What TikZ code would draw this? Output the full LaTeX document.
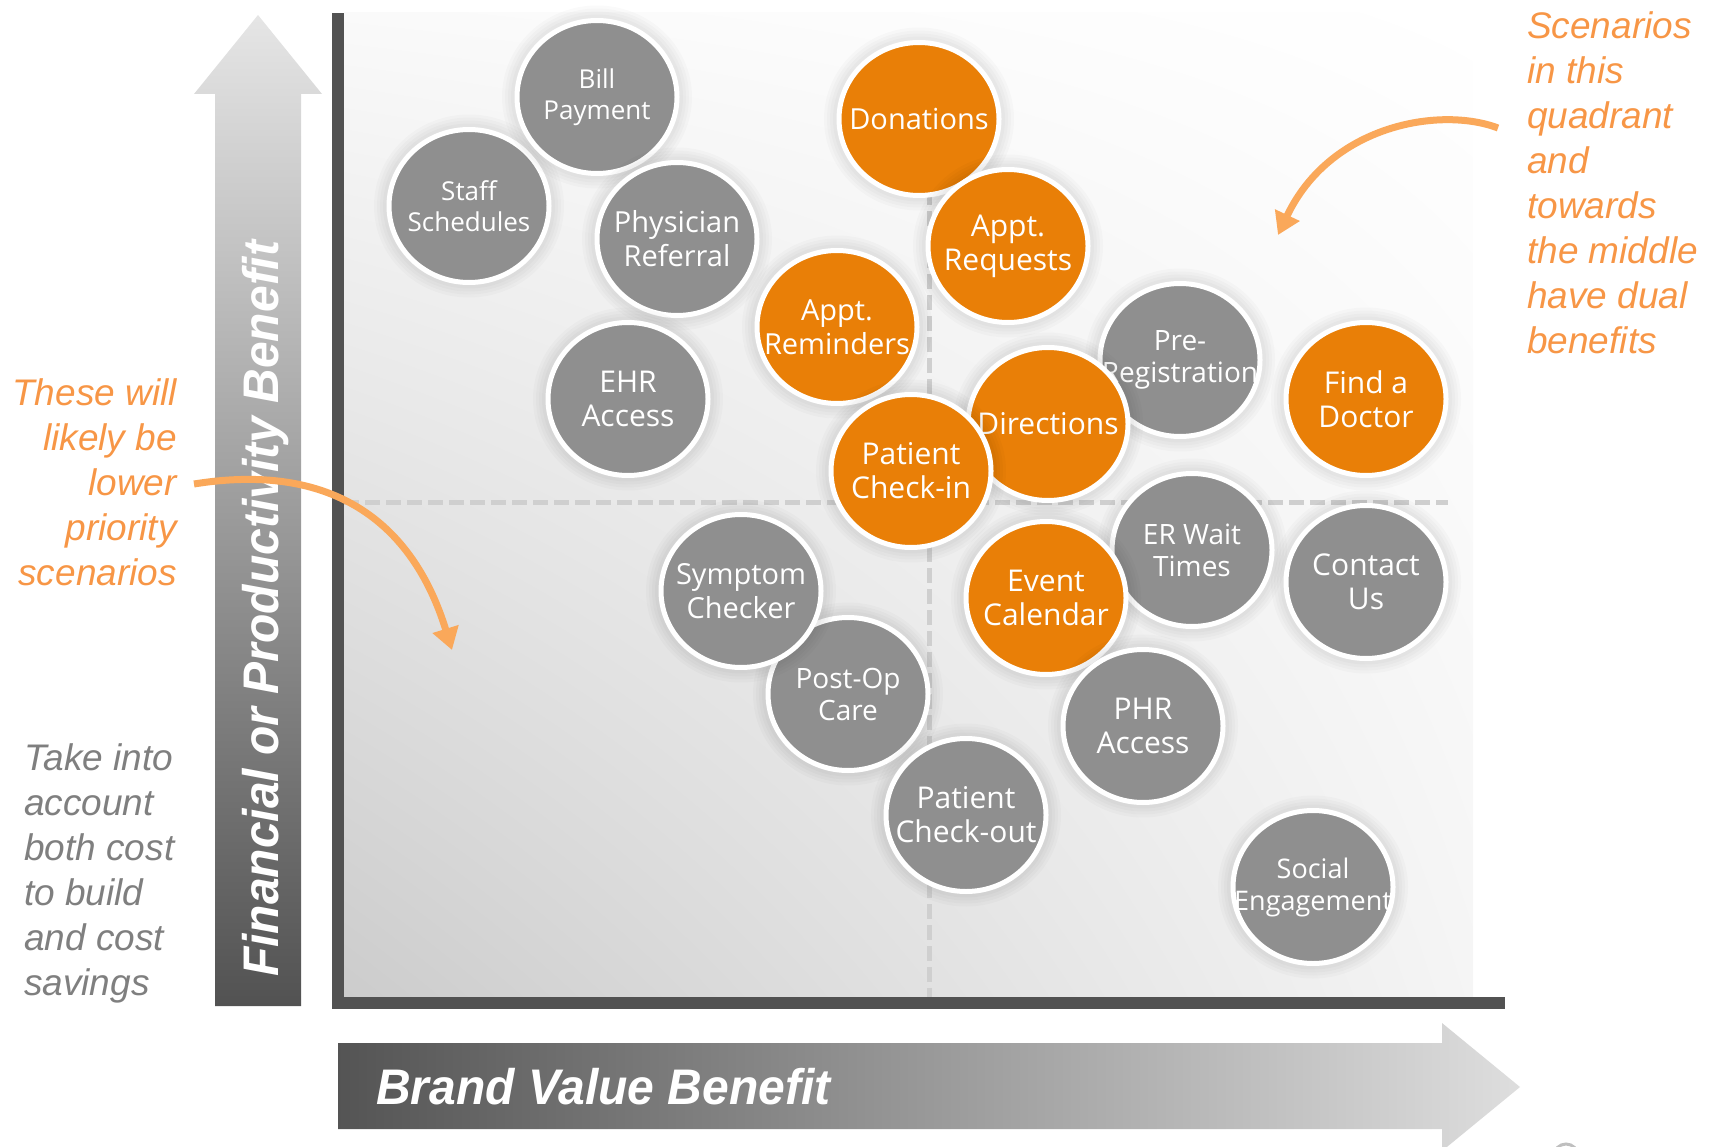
\documentclass[tikz,border=0pt]{standalone}
\usepackage{fontspec}
\setmainfont{Liberation Sans}
\newfontfamily\bubfont{Open Sans}
\newfontfamily\arialfont{Liberation Sans}
\usetikzlibrary{shapes.geometric,arrows.meta,shadings}
\definecolor{bubgray}{HTML}{8F8F8F}
\definecolor{bubor}{HTML}{E97F07}
\definecolor{annor}{HTML}{F79646}
\definecolor{arrowor}{HTML}{FAA85A}
\definecolor{axisdark}{HTML}{525252}
\definecolor{dashgray}{HTML}{CFCFCF}
\definecolor{notegray}{HTML}{7F7F7F}
\begin{document}
\begin{tikzpicture}[x=1pt,y=-1pt,
  glow/.style={preaction={draw=black, draw opacity=#1, line width=12pt},
               preaction={draw=black, draw opacity=#1, line width=18pt},
               preaction={draw=black, draw opacity=#1, line width=24pt},
               preaction={draw=black, draw opacity=#1, line width=30pt}},
  bub/.style={ellipse, minimum width=160pt, minimum height=153pt, inner sep=0pt, draw=white, line width=5pt, glow=0.018},
  gbub/.style={bub, fill=bubgray},
  obub/.style={bub, fill=bubor},
  btxt/.style 2 args={text=white, align=center, inner sep=0pt, font=\bubfont\fontsize{#1}{#2}\selectfont},
  note/.style={inner sep=0pt, font=\arialfont\itshape\fontsize{37}{45}\selectfont},
  axislabel/.style={inner sep=0pt, text=white, font=\arialfont\bfseries\itshape\fontsize{50}{56}\selectfont},
  callout/.style={draw=arrowor, line width=7pt, -{Triangle[width=26pt,length=22pt]}},
  quaddash/.style={draw=dashgray, line width=5pt, dash pattern=on 15pt off 6pt},
]
\useasboundingbox (0,0) rectangle (1710,1147);

% plot background
\shade[upper left=black!2, upper right=white, lower left=black!20, lower right=black!4] (344,13) rectangle (1473,997);

% quadrant dashed lines
\draw[quaddash] (344,502) -- (1448,502);
\draw[quaddash] (929,190) -- (929,997);

% axes
\fill[axisdark] (332,13) rectangle (344,1009);
\fill[axisdark] (332,997) rectangle (1505,1009);

% vertical big arrow
\shade[top color=black!10, bottom color=axisdark]
  (215,1006) -- (215,94) -- (194,94) -- (258,15) -- (322,94) -- (301,94) -- (301,1006) -- cycle;
\node[axislabel, rotate=90, anchor=base west] (ylab) at (278,977) {\scalebox{0.96}[1]{Financial or Productivity Benefit}};

% horizontal big arrow
\shade[left color=black!67, right color=black!13]
  (338,1043) -- (1442,1043) -- (1442,1023) -- (1520,1087) -- (1442,1151) -- (1442,1129) -- (338,1129) -- cycle;
\node[axislabel, anchor=base west] (xlab) at (376,1104) {\scalebox{0.96}[1]{Brand Value Benefit}};

% bubbles
\node[gbub, label={[btxt={26}{31}]center:Staff\\Schedules}] (staff) at (469,206) {};
\node[gbub, label={[btxt={26}{31}]center:Bill\\Payment}] (bill) at (597,97) {};
\node[gbub, label={[btxt={29}{34}]center:Physician\\Referral}] (phys) at (677,239) {};
\node[gbub, label={[btxt={30}{34}]center:EHR\\Access}] (ehr) at (628,399) {};
\node[obub, label={[btxt={29}{34}]center:Donations}] (don) at (919,119) {};
\node[obub, label={[btxt={30}{34}]center:Appt.\\Requests}] (areq) at (1008,246) {};
\node[obub, label={[btxt={29}{34}]center:Appt.\\Reminders}] (arem) at (837,327) {};
\node[gbub, label={[btxt={28}{32}]center:Pre-\\Registration}] (prereg) at (1180,360) {};
\node[obub, label={[btxt={30}{34}]center:Directions}] (dir) at (1048,424) {};
\node[obub, label={[btxt={30}{34}]center:Patient\\Check-in}] (pcin) at (911,471) {};
\node[obub, label={[btxt={30}{34}]center:Find a\\Doctor}] (find) at (1366,399) {};
\node[gbub, label={[btxt={28}{32}]center:Post-Op\\Care}] (postop) at (848,694) {};
\node[gbub, label={[btxt={29}{34}]center:Symptom\\Checker}] (symp) at (741,591) {};
\node[gbub, label={[btxt={28}{32}]center:ER Wait\\Times}] (erwait) at (1192,550) {};
\node[obub, label={[btxt={30}{34}]center:Event\\Calendar}] (event) at (1046,598) {};
\node[gbub, label={[btxt={30}{34}]center:Contact\\Us}] (contact) at (1366,582) {};
\node[gbub, label={[btxt={30}{34}]center:PHR\\Access}] (phr) at (1143,726) {};
\node[gbub, label={[btxt={30}{34}]center:Patient\\Check-out}] (pcout) at (966,815) {};
\node[gbub, label={[btxt={27}{32}]center:Social\\Engagement}] (social) at (1313,887) {};

% annotations
\node[note, text=annor, align=right, anchor=north east] (lowtxt) at (177,378) {These will\\likely be\\lower\\priority\\scenarios};
\node[note, text=annor, align=left, anchor=north west] (dualtxt) at (1527,11) {Scenarios\\in this\\quadrant\\and\\towards\\the middle\\have dual\\benefits};
\node[note, text=notegray, align=left, anchor=north west] (costtxt) at (24,743) {Take into\\account\\both cost\\to build\\and cost\\savings};

% callout arrows
\coordinate (a1s) at (194,484);
\coordinate (a1e) at (452,650);
\draw[callout] (a1s) .. controls (330,462) and (412,520) .. (a1e);
\coordinate (a2s) at (1498,128);
\coordinate (a2e) at (1278,235);
\draw[callout] (a2s) .. controls (1440,106) and (1330,125) .. (a2e);

% small mark at bottom right
\draw[black!25, line width=3pt] (1566,1156) circle (12);
\end{tikzpicture}
\end{document}
